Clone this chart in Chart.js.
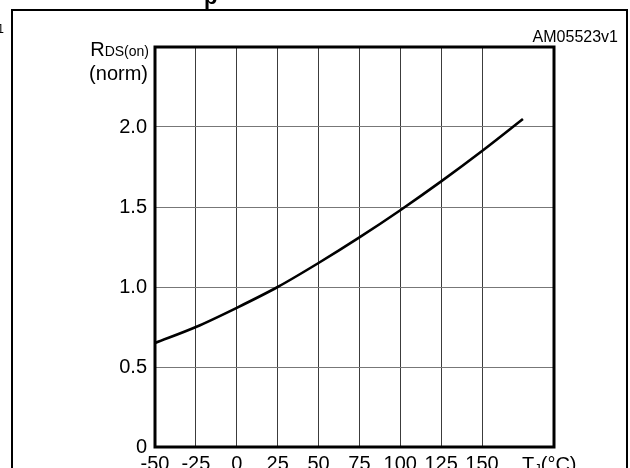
<!DOCTYPE html>
<html>
<head>
<meta charset="utf-8">
<script src="https://cdn.jsdelivr.net/npm/chart.js@4/dist/chart.umd.min.js"></script>
<style>
html,body{margin:0;padding:0;background:#fff;overflow:hidden;width:630px;height:468px;}
#wrap{position:absolute;left:0;top:0;width:630px;height:490px;}
</style>
</head>
<body>
<div id="wrap"><canvas id="c" width="630" height="490"></canvas></div>
<script>
// Data
const temps = [-50, -25, 0, 25, 50, 75, 100, 125, 150, 175];
const rdsNorm = [0.65, 0.75, 0.87, 1.0, 1.15, 1.31, 1.48, 1.66, 1.85, 2.05];
const xTickLabels = ['-50', '-25', '0', '25', '50', '75', '100', '125', '150'];
const yTickLabels = ['0', '0.5', '1.0', '1.5', '2.0'];

const FONT = "'Liberation Sans', Arial, Helvetica, sans-serif";

const decor = {
  id: 'decor',
  afterDraw(chart) {
    const ctx = chart.ctx;
    const a = chart.chartArea;
    ctx.save();
    // outer frame
    ctx.strokeStyle = '#000';
    ctx.lineWidth = 2;
    ctx.beginPath();
    ctx.moveTo(12, 490);
    ctx.lineTo(12, 10);
    ctx.lineTo(627, 10);
    ctx.lineTo(627, 490);
    ctx.stroke();
    // plot frame
    ctx.lineWidth = 3;
    ctx.strokeRect(a.left, a.top, a.right - a.left, a.bottom - a.top);

    ctx.fillStyle = '#000';
    ctx.textBaseline = 'alphabetic';
    // R DS(on)
    ctx.font = '20px ' + FONT;
    const wR = ctx.measureText('R').width;
    ctx.font = '14px ' + FONT;
    const wSub = ctx.measureText('DS(on)').width;
    let x0 = 149 - wR - wSub;
    ctx.font = '20px ' + FONT;
    ctx.textAlign = 'left';
    ctx.fillText('R', x0, 56);
    ctx.font = '14px ' + FONT;
    ctx.fillText('DS(on)', x0 + wR, 56);
    // (norm)
    ctx.font = '20px ' + FONT;
    ctx.textAlign = 'right';
    ctx.fillText('(norm)', 148, 80);
    // AM code
    ctx.font = '16px ' + FONT;
    ctx.fillText('AM05523v1', 618, 42);
    // fragment at top-left
    ctx.font = '12px ' + FONT;
    ctx.fillText('1', 4, 33);
    // fragment of title
    ctx.font = 'bold 22px ' + FONT;
    ctx.textAlign = 'left';
    ctx.fillText('p', 204, 4);
    // TJ(°C)
    const xs = chart.scales.x;
    const ty = xs.top + 24;
    ctx.font = '20px ' + FONT;
    let tx = 522;
    ctx.fillText('T', tx, ty);
    tx += ctx.measureText('T').width;
    ctx.font = '13px ' + FONT;
    ctx.fillText('J', tx, ty + 2);
    tx += ctx.measureText('J').width;
    ctx.font = '20px ' + FONT;
    ctx.fillText('(°C)', tx, ty);
    ctx.restore();
  }
};

new Chart(document.getElementById('c'), {
  type: 'line',
  data: {
    datasets: [{
      data: temps.map((t, i) => ({ x: t, y: rdsNorm[i] })),
      borderColor: '#000',
      borderWidth: 2.6,
      pointRadius: 0,
      fill: false,
      cubicInterpolationMode: 'monotone'
    }]
  },
  options: {
    responsive: false,
    devicePixelRatio: 1,
    animation: false,
    layout: { padding: { left: 0, top: 47, right: 76, bottom: 0 } },
    plugins: { legend: { display: false }, tooltip: { enabled: false } },
    scales: {
      x: {
        type: 'linear',
        min: -50,
        max: 194,
        afterFit(s) { s.height = 43; },
        border: { display: false },
        grid: { color: '#3c3c3c', lineWidth: 1, drawTicks: false },
        ticks: {
          stepSize: 25,
          padding: 5,
          color: '#000',
          font: { family: FONT, size: 20 },
          maxRotation: 0,
          autoSkip: false,
          callback(v) {
            const i = temps.indexOf(v);
            return (i >= 0 && i < xTickLabels.length) ? xTickLabels[i] : '';
          }
        }
      },
      y: {
        min: 0,
        max: 2.5,
        afterFit(s) { s.width = 155; },
        border: { display: false },
        grid: { color: '#777', lineWidth: 1, drawTicks: false },
        ticks: {
          stepSize: 0.5,
          padding: 8,
          color: '#000',
          font: { family: FONT, size: 20 },
          callback(v) {
            const i = Math.round(v / 0.5);
            return i < yTickLabels.length ? yTickLabels[i] : '';
          }
        }
      }
    }
  },
  plugins: [decor]
});
</script>
</body>
</html>
